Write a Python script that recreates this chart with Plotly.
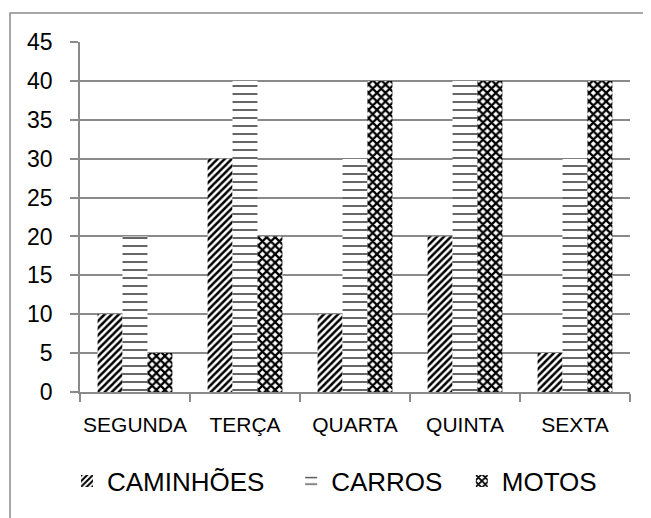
import plotly.graph_objects as go

categories = ["SEGUNDA", "TERÇA", "QUARTA", "QUINTA", "SEXTA"]
caminhoes = [10, 30, 10, 20, 5]
carros = [20, 40, 30, 40, 30]
motos = [5, 20, 40, 40, 40]
y_ticks = [0, 5, 10, 15, 20, 25, 30, 35, 40, 45]
series_names = ["CAMINHÕES", "CARROS", "MOTOS"]

FONT = "Liberation Sans"
GRID = "#8a8a8a"
NB = "\u00a0"

fig = go.Figure()
fig.add_trace(go.Bar(name=series_names[0] + NB * 3, x=categories, y=caminhoes,
                     marker=dict(color="white", line=dict(width=0),
                                 pattern=dict(shape="/", size=5, solidity=0.5,
                                              fgcolor="black", bgcolor="white", fillmode="replace"))))
fig.add_trace(go.Bar(name=series_names[1] + NB * 2, x=categories, y=carros,
                     marker=dict(color="white", line=dict(width=0),
                                 pattern=dict(shape="-", size=8, solidity=0.2, fgopacity=0.75,
                                              fgcolor="black", bgcolor="white", fillmode="replace"))))
fig.add_trace(go.Bar(name=series_names[2], x=categories, y=motos,
                     marker=dict(color="white", line=dict(width=0),
                                 pattern=dict(shape="x", size=6, solidity=0.6,
                                              fgcolor="black", bgcolor="white", fillmode="replace"))))

# body has an 8px margin in the page: figure coords = window coords - 8
OFF = 8
W, H = 651 - OFF, 518 - OFF
L, T = 80 - OFF, 42 - OFF
R = W - (630 - OFF)
B = H - (392 - OFF)
pw, ph = W - L - R, H - T - B
y0px = 392 - OFF

fig.update_layout(
    width=W, height=H,
    margin=dict(l=L, r=R, t=T, b=B),
    paper_bgcolor="white", plot_bgcolor="white",
    barmode="group", bargap=0.32, bargroupgap=0,
    font=dict(family=FONT, color="black"),
    showlegend=True,
    legend=dict(orientation="h", x=(59 - L) / pw, xanchor="left",
                y=(y0px - (481 - OFF)) / ph, yanchor="middle",
                font=dict(size=26, family=FONT), itemwidth=30, traceorder="normal"),
    xaxis=dict(showline=True, linecolor=GRID, linewidth=1.5, ticks="outside", tickson="boundaries",
               ticklen=8, tickcolor=GRID, tickwidth=1.5, showgrid=False, tickangle=0,
               tickfont=dict(size=21, family=FONT), ticklabelstandoff=13),
    yaxis=dict(range=[0, 45], tickvals=y_ticks, showline=True, linecolor=GRID, linewidth=1.5,
               ticks="outside", ticklen=8, tickcolor=GRID, tickwidth=1.5,
               showgrid=True, gridcolor=GRID, gridwidth=1.5, zeroline=False,
               tickfont=dict(size=23, family=FONT), ticklabelstandoff=13),
)

# outer chart border (extends past right/bottom of window)
fig.add_shape(type="rect", xref="paper", yref="paper",
              x0=(10 - 80) / pw, x1=(W + 30 - L) / pw,
              y0=(y0px - (H + 30)) / ph, y1=(y0px - (13 - OFF)) / ph,
              line=dict(color=GRID, width=1.5), fillcolor="rgba(0,0,0,0)", layer="below")

fig.write_html("out.html")
